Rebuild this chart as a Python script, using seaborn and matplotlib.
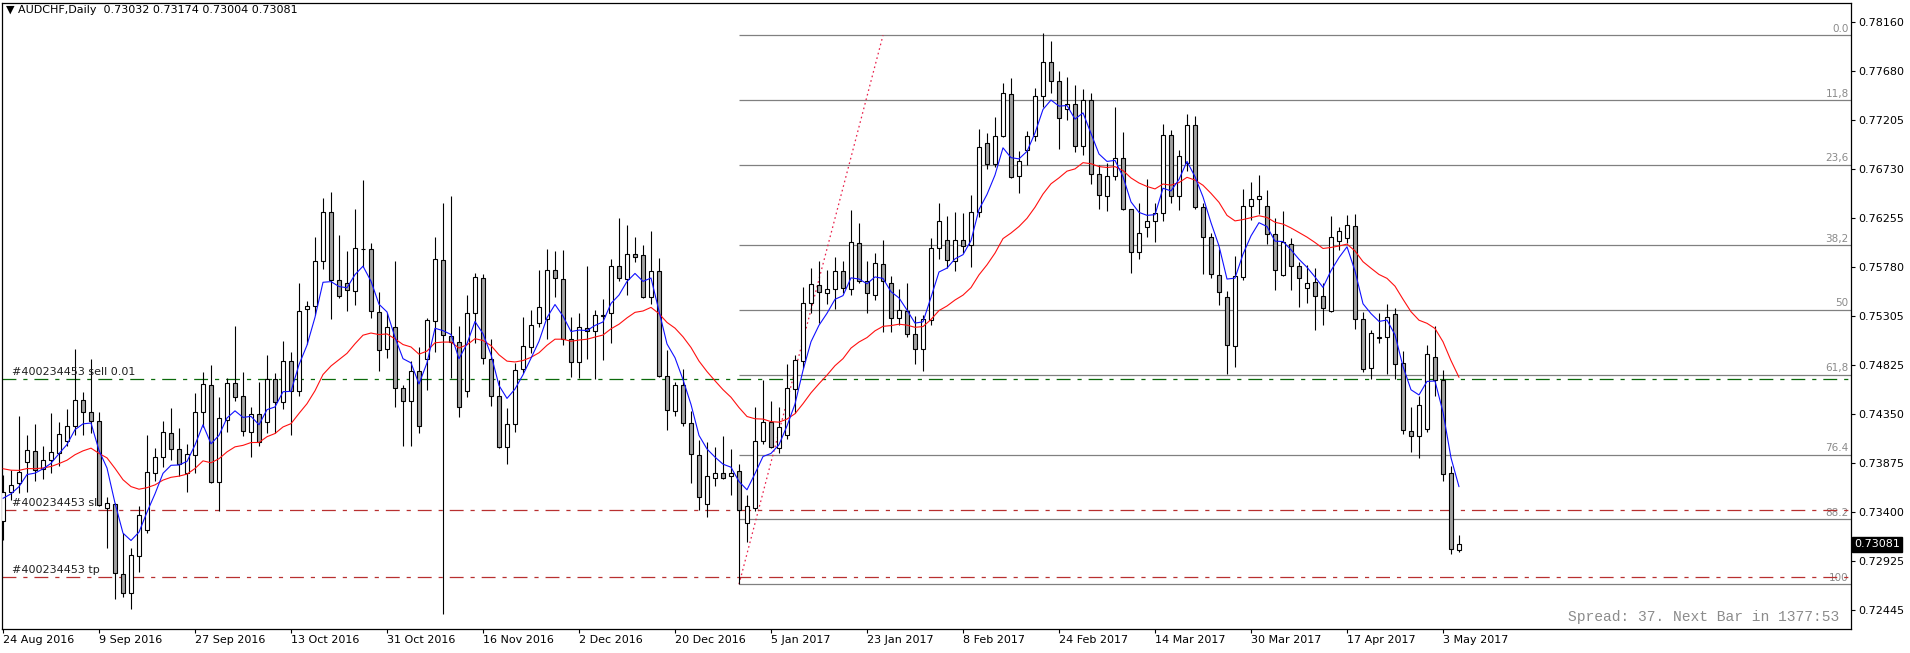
import numpy as np
import pandas as pd
import matplotlib
matplotlib.use("Agg")
import matplotlib.pyplot as plt
import seaborn as sns

# ---------------- data ----------------
opens = [0.73310, 0.73589, 0.73676, 0.73880, 0.73987, 0.73812, 0.73899, 0.73967, 0.74087, 0.74230,
         0.74485, 0.74366, 0.74278, 0.73433, 0.73472, 0.72792, 0.72607, 0.72967, 0.73219, 0.73773,
         0.73929, 0.74162, 0.74006, 0.73773, 0.73948, 0.74366, 0.74628, 0.73686, 0.74288, 0.74647,
         0.74524, 0.74178, 0.74346, 0.74275, 0.74686, 0.74463, 0.74861, 0.74576, 0.75366, 0.75395,
         0.75832, 0.76308, 0.75648, 0.75619, 0.75541, 0.75955, 0.75949, 0.75337, 0.74978, 0.75191,
         0.74599, 0.74472, 0.74764, 0.74880, 0.75250, 0.75842, 0.75104, 0.75046, 0.74570, 0.75327,
         0.75667, 0.74880, 0.74521, 0.74026, 0.74249, 0.74783, 0.74997, 0.75230, 0.75269, 0.75745,
         0.75658, 0.75075, 0.74851, 0.75182, 0.75152, 0.75305, 0.75327, 0.75784, 0.75658, 0.75900,
         0.75891, 0.75483, 0.75735, 0.74715, 0.74375, 0.74628, 0.74259, 0.73948, 0.73472, 0.73724,
         0.73773, 0.73744, 0.73793, 0.73287, 0.73433, 0.74084, 0.74268, 0.74016, 0.74142, 0.74589,
         0.74861, 0.75424, 0.75599, 0.75522, 0.75560, 0.75735, 0.75560, 0.76007, 0.75638, 0.75502,
         0.75803, 0.75619, 0.75279, 0.75347, 0.75123, 0.74978, 0.75259, 0.75959, 0.76036, 0.75832,
         0.76036, 0.75988, 0.76308, 0.76979, 0.76775, 0.77047, 0.77455, 0.76658, 0.76911, 0.77047,
         0.77435, 0.77766, 0.77581, 0.77309, 0.77358, 0.76950, 0.77396, 0.76678, 0.76464, 0.76658,
         0.76833, 0.76338, 0.75920, 0.76163, 0.76221, 0.76299, 0.77056, 0.76464, 0.76784, 0.77153,
         0.76357, 0.76066, 0.75696, 0.75483, 0.75007, 0.75677, 0.76367, 0.76435, 0.76367, 0.76095,
         0.75696, 0.75997, 0.75784, 0.75570, 0.75628, 0.75492, 0.75347, 0.76027, 0.76056, 0.76172,
         0.75269, 0.74793, 0.75091, 0.75094, 0.75318, 0.74842, 0.74181, 0.74132, 0.74200, 0.74900,
         0.74676, 0.73773, 0.73032]
highs = [0.73757, 0.73805, 0.74330, 0.74145, 0.74252, 0.74042, 0.74359, 0.74272, 0.74395, 0.74981,
         0.74560, 0.74880, 0.74372, 0.73546, 0.73480, 0.73190, 0.73044, 0.73456, 0.74145, 0.74016,
         0.74281, 0.74408, 0.74210, 0.74055, 0.74550, 0.74757, 0.74822, 0.74511, 0.74696, 0.75204,
         0.74757, 0.74417, 0.74660, 0.74923, 0.74744, 0.75059, 0.74952, 0.75619, 0.75447, 0.76066,
         0.76444, 0.76503, 0.76085, 0.75930, 0.76338, 0.76619, 0.76007, 0.75531, 0.75327, 0.75832,
         0.74631, 0.74861, 0.74997, 0.75285, 0.76066, 0.76396, 0.76467, 0.75201, 0.75502, 0.75716,
         0.75706, 0.75075, 0.74680, 0.74404, 0.74842, 0.75288, 0.75356, 0.75745, 0.75949, 0.75930,
         0.75939, 0.75288, 0.75327, 0.75784, 0.75360, 0.75467, 0.75852, 0.76250, 0.76182, 0.76066,
         0.75988, 0.76124, 0.75862, 0.74971, 0.74657, 0.74783, 0.74375, 0.74094, 0.74074, 0.74026,
         0.74133, 0.74006, 0.73861, 0.73559, 0.74414, 0.74676, 0.74473, 0.74414, 0.74835, 0.74923,
         0.75580, 0.75764, 0.75832, 0.75745, 0.75871, 0.75832, 0.76328, 0.76202, 0.75832, 0.75910,
         0.76036, 0.75687, 0.75560, 0.75619, 0.75298, 0.75308, 0.76056, 0.76396, 0.76270, 0.76308,
         0.76299, 0.76474, 0.77115, 0.77076, 0.77231, 0.77562, 0.77610, 0.76901, 0.77095, 0.77513,
         0.78047, 0.77969, 0.77678, 0.77620, 0.77542, 0.77503, 0.77464, 0.76765, 0.76784, 0.77328,
         0.77085, 0.76345, 0.76396, 0.76629, 0.76396, 0.77163, 0.77105, 0.76911, 0.77260, 0.77241,
         0.76396, 0.76104, 0.75949, 0.75541, 0.75881, 0.76532, 0.76600, 0.76668, 0.76522, 0.76250,
         0.76318, 0.76056, 0.75823, 0.75794, 0.75764, 0.75619, 0.76270, 0.76163, 0.76279, 0.76289,
         0.75337, 0.75162, 0.75327, 0.75415, 0.75376, 0.74958, 0.74421, 0.74521, 0.75016, 0.75201,
         0.74774, 0.73841, 0.73174]
lows = [0.73125, 0.73514, 0.73579, 0.73595, 0.73699, 0.73718, 0.73773, 0.73848, 0.74042, 0.74145,
        0.74145, 0.74162, 0.73455, 0.73044, 0.72549, 0.72575, 0.72452, 0.72818, 0.73197, 0.73699,
        0.73838, 0.73903, 0.73750, 0.73589, 0.73780, 0.74226, 0.73676, 0.73404, 0.74175, 0.74479,
        0.74139, 0.73935, 0.74039, 0.74168, 0.74162, 0.74398, 0.74145, 0.74528, 0.75029, 0.75311,
        0.75755, 0.75272, 0.75473, 0.75350, 0.75405, 0.75774, 0.75279, 0.74770, 0.74890, 0.74414,
        0.74035, 0.74042, 0.74168, 0.74583, 0.74955, 0.72407, 0.74696, 0.74324, 0.74511, 0.75042,
        0.74832, 0.74424, 0.74020, 0.73860, 0.74178, 0.74744, 0.74939, 0.75191, 0.75075, 0.75489,
        0.75016, 0.74712, 0.74702, 0.74880, 0.74686, 0.74871, 0.75036, 0.75645, 0.75502, 0.75823,
        0.75480, 0.75415, 0.74710, 0.74191, 0.74327, 0.74230, 0.73676, 0.73414, 0.73352, 0.73653,
        0.73715, 0.73566, 0.72695, 0.73103, 0.73404, 0.74055, 0.74016, 0.73967, 0.74103, 0.74356,
        0.74793, 0.75327, 0.75230, 0.75415, 0.75366, 0.75522, 0.75502, 0.75619, 0.75327, 0.75454,
        0.75143, 0.75143, 0.75211, 0.75094, 0.74832, 0.74764, 0.75211, 0.75852, 0.75764, 0.75735,
        0.75910, 0.75774, 0.76260, 0.76726, 0.76746, 0.77037, 0.76640, 0.76493, 0.76765, 0.76998,
        0.77328, 0.77464, 0.76920, 0.77202, 0.76891, 0.76862, 0.76580, 0.76338, 0.76318, 0.76619,
        0.76328, 0.75716, 0.75852, 0.76072, 0.76017, 0.76221, 0.76396, 0.76328, 0.76707, 0.76338,
        0.75706, 0.75667, 0.75405, 0.74735, 0.74803, 0.75648, 0.76231, 0.76289, 0.75997, 0.75551,
        0.75690, 0.75551, 0.75385, 0.75424, 0.75162, 0.75211, 0.75340, 0.75939, 0.76007, 0.75172,
        0.74754, 0.74686, 0.75036, 0.74735, 0.74686, 0.74152, 0.73977, 0.73919, 0.74171, 0.74521,
        0.73695, 0.72986, 0.73004]
closes = [0.73589, 0.73660, 0.73783, 0.73996, 0.73802, 0.73899, 0.73977, 0.74152, 0.74230, 0.74485,
          0.74366, 0.74278, 0.73462, 0.73482, 0.72802, 0.72607, 0.72977, 0.73365, 0.73783, 0.73929,
          0.74171, 0.74006, 0.73860, 0.73958, 0.74366, 0.74638, 0.73689, 0.74307, 0.74647, 0.74518,
          0.74188, 0.74346, 0.74081, 0.74686, 0.74469, 0.74861, 0.74576, 0.75347, 0.75395, 0.75832,
          0.76308, 0.75648, 0.75492, 0.75551, 0.75959, 0.75949, 0.75347, 0.74968, 0.75191, 0.74599,
          0.74472, 0.74764, 0.74230, 0.75259, 0.75852, 0.75114, 0.75046, 0.74414, 0.75327, 0.75677,
          0.74890, 0.74521, 0.74026, 0.74249, 0.74774, 0.75007, 0.75211, 0.75386, 0.75745, 0.75667,
          0.75075, 0.74851, 0.75191, 0.75152, 0.75308, 0.75311, 0.75784, 0.75667, 0.75900, 0.75871,
          0.75483, 0.75735, 0.74715, 0.74385, 0.74628, 0.74259, 0.73958, 0.73540, 0.73744, 0.73773,
          0.73724, 0.73773, 0.73414, 0.73453, 0.74084, 0.74268, 0.74026, 0.74220, 0.74599, 0.74871,
          0.75424, 0.75609, 0.75531, 0.75560, 0.75735, 0.75570, 0.76017, 0.75638, 0.75522, 0.75813,
          0.75638, 0.75279, 0.75356, 0.75123, 0.74978, 0.75269, 0.75959, 0.76221, 0.75842, 0.76036,
          0.75978, 0.76308, 0.76940, 0.76775, 0.77047, 0.77464, 0.76648, 0.76804, 0.77047, 0.77435,
          0.77766, 0.77581, 0.77222, 0.77358, 0.76950, 0.77396, 0.76678, 0.76474, 0.76658, 0.76833,
          0.76338, 0.75920, 0.76104, 0.76221, 0.76299, 0.77056, 0.76464, 0.76852, 0.77153, 0.76357,
          0.76066, 0.75706, 0.75531, 0.75016, 0.75687, 0.76367, 0.76435, 0.76464, 0.76095, 0.75745,
          0.76017, 0.75784, 0.75667, 0.75619, 0.75492, 0.75376, 0.76066, 0.76124, 0.76182, 0.75269,
          0.74783, 0.75133, 0.75097, 0.75288, 0.74832, 0.74194, 0.74132, 0.74434, 0.74929, 0.74676,
          0.73763, 0.73035, 0.73081]

date_labels = ["24 Aug 2016", "9 Sep 2016", "27 Sep 2016", "13 Oct 2016", "31 Oct 2016",
               "16 Nov 2016", "2 Dec 2016", "20 Dec 2016", "5 Jan 2017", "23 Jan 2017",
               "8 Feb 2017", "24 Feb 2017", "14 Mar 2017", "30 Mar 2017", "17 Apr 2017",
               "3 May 2017"]
bars_per_label = 12
price_ticks = [0.78160, 0.77680, 0.77205, 0.76730, 0.76255, 0.75780, 0.75305,
               0.74825, 0.74350, 0.73875, 0.73400, 0.72925, 0.72445]

fib_pct = [0.0, 11.8, 23.6, 38.2, 50.0, 61.8, 76.4, 88.2, 100.0]
fib_texts = ["0.0", "11,8", "23,6", "38,2", "50", "61,8", "76.4", "88.2", "100"]
fib_high = 0.78028
fib_low = 0.72695
fib_low_bar = 92
fib_high_bar = 110

order_sell = 0.74689
order_sl = 0.73416
order_tp = 0.72766
order_id = "#400234453"

ema_fast_period, ema_slow_period = 5, 21
ema_fast_seed, ema_slow_seed = 0.73500, 0.73840

header = "\u25bc AUDCHF,Daily  0.73032 0.73174 0.73004 0.73081"
status_text = "Spread: 37. Next Bar in 1377:53"
last_price = closes[-1]

# ---------------- figure ----------------
sns.set_theme(style="white")
plt.rcParams["font.family"] = ["DejaVu Sans"]
plt.rcParams["lines.scale_dashes"] = False

W, H = 1910, 653
fig = plt.figure(figsize=(W / 100, H / 100), dpi=100)
fig.patch.set_facecolor("white")
left_px, right_px, top_px, bot_px = 2, 1851, 3, 629
ax = fig.add_axes([left_px / W, 1 - bot_px / H, (right_px - left_px) / W, (bot_px - top_px) / H])
ax.set_facecolor("white")

n = len(closes)
x = np.arange(n)
df = pd.DataFrame({"bar": x, "open": opens, "high": highs, "low": lows, "close": closes})

# moving averages (exponential, seeded with the level read at the left edge)
df["ema_fast"] = pd.Series([ema_fast_seed] + closes).ewm(span=ema_fast_period, adjust=False).mean().iloc[1:].values
df["ema_slow"] = pd.Series([ema_slow_seed] + closes).ewm(span=ema_slow_period, adjust=False).mean().iloc[1:].values

x_max = 231.0
ax.set_xlim(-0.125, x_max)
ax.set_ylim(0.72260, 0.78342)

# Fibonacci levels
fib_prices = [fib_high - p / 100.0 * (fib_high - fib_low) for p in fib_pct]
ax.hlines(fib_prices, fib_low_bar, x_max, color="#808080", lw=0.9, zorder=1)
for pr, t in zip(fib_prices, fib_texts):
    ax.annotate(t, xy=(x_max - 0.3, pr), xytext=(0, 1), textcoords="offset points",
                ha="right", va="bottom", fontsize=7.5, color="#8a8a8a", zorder=2)

# trend line of the Fibonacci tool
ax.plot([fib_low_bar, fib_high_bar], [fib_low, fib_high], color="#e8204a", lw=0.9,
        ls=(0, (1.2, 2.2)), zorder=2)

# order lines
dashdot = (0, (10, 5, 3, 5))
ax.axhline(order_sell, color="#0a6a0a", lw=0.9, ls=dashdot, zorder=2)
ax.axhline(order_sl, color="#b83030", lw=0.9, ls=dashdot, zorder=2)
ax.axhline(order_tp, color="#b83030", lw=0.9, ls=dashdot, zorder=2)
for pr, t in [(order_sell, order_id + " sell 0.01"), (order_sl, order_id + " sl"), (order_tp, order_id + " tp")]:
    ax.annotate(t, xy=(1.1, pr), xytext=(0, 1.5), textcoords="offset points",
                ha="left", va="bottom", fontsize=8, color="#202020", zorder=6)

# candles
ax.vlines(df["bar"], df["low"], df["high"], color="black", lw=0.8, zorder=3)
body_bottom = np.minimum(df["open"], df["close"])
body_h = np.maximum(np.abs(df["close"] - df["open"]), 0.00001)
body_col = np.where(df["close"] >= df["open"], "white", "#a0a0a0")
ax.bar(df["bar"], body_h, bottom=body_bottom, width=0.62, color=body_col,
       edgecolor="black", linewidth=0.8, zorder=4)

# moving average lines
sns.lineplot(data=df, x="bar", y="ema_slow", ax=ax, color="#ff1010", lw=0.8, zorder=5, legend=False)
sns.lineplot(data=df, x="bar", y="ema_fast", ax=ax, color="#1010ff", lw=0.8, zorder=5, legend=False)
ax.set_xlabel("")
ax.set_ylabel("")

# axes styling
for s in ax.spines.values():
    s.set_color("black")
    s.set_linewidth(0.9)
ax.yaxis.tick_right()
ax.set_yticks(price_ticks)
ax.set_yticklabels([f"{p:.5f}" for p in price_ticks])
ax.tick_params(axis="y", direction="out", length=3, width=0.8, pad=2, labelsize=8,
               colors="black", right=True, left=False)
xt = [i * bars_per_label for i in range(len(date_labels))]
ax.set_xticks(xt)
ax.set_xticklabels(date_labels)
ax.tick_params(axis="x", direction="out", length=3, width=0.8, pad=1, labelsize=8,
               colors="black", bottom=True)
for lbl in ax.get_xticklabels():
    lbl.set_ha("left")
ax.grid(False)

# current price marker
ax.text(1.0015, last_price, f"{last_price:.5f}", transform=ax.get_yaxis_transform(),
        ha="left", va="center", fontsize=8, color="white", zorder=10, clip_on=False,
        bbox=dict(facecolor="black", edgecolor="black", boxstyle="square,pad=0.2"))

# header and status text
fig.text(6 / W, 1 - 10 / H, header, ha="left", va="center", fontsize=8, color="black")
ax.text(0.9935, 0.019, status_text, transform=ax.transAxes, ha="right", va="center",
        fontsize=10.5, family="Liberation Mono", color="#8c8c8c")

fig.savefig("out.png", dpi=100, facecolor="white")
